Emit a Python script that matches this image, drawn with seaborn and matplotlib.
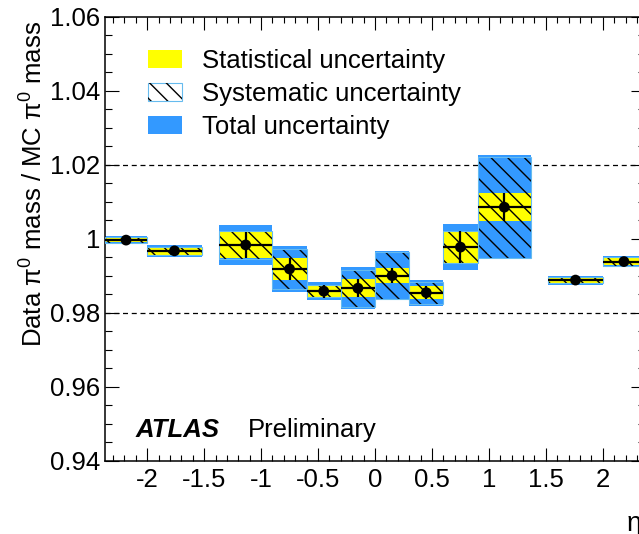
import numpy as np
import pandas as pd
import matplotlib
matplotlib.use("Agg")
import matplotlib.pyplot as plt
from matplotlib.patches import Patch
from matplotlib.ticker import MultipleLocator, FixedLocator
import seaborn as sns

# ---- data ----
eta_lo = [-2.37, -2.0, -1.37, -0.9, -0.6, -0.3, 0.0, 0.3, 0.6, 0.9, 1.52, 2.0]
eta_hi = [-2.0, -1.52, -0.9, -0.6, -0.3, 0.0, 0.3, 0.6, 0.9, 1.37, 2.0, 2.37]
ratio = [0.9997, 0.9968, 0.9984, 0.9919, 0.9859, 0.9867, 0.9901, 0.9855, 0.9978, 1.0086, 0.9889, 0.9939]
stat_unc = [0.0006, 0.0011, 0.0035, 0.0030, 0.0018, 0.0024, 0.0020, 0.0018, 0.0044, 0.0037, 0.0008, 0.0010]
syst_unc = [0.0008, 0.0011, 0.0038, 0.0053, 0.0017, 0.0050, 0.0064, 0.0030, 0.0044, 0.0136, 0.0008, 0.0012]
tot_unc = [0.0010, 0.0016, 0.0053, 0.0061, 0.0025, 0.0056, 0.0067, 0.0035, 0.0062, 0.0141, 0.0012, 0.0016]
x_ticks = [-2, -1.5, -1, -0.5, 0, 0.5, 1, 1.5, 2]
x_ticklabels = ["-2", "-1.5", "-1", "-0.5", "0", "0.5", "1", "1.5", "2"]
y_ticks = [0.94, 0.96, 0.98, 1.00, 1.02, 1.04, 1.06]
y_ticklabels = ["0.94", "0.96", "0.98", "1", "1.02", "1.04", "1.06"]
legend_labels = ["Statistical uncertainty", "Systematic uncertainty", "Total uncertainty"]

df = pd.DataFrame({"lo": eta_lo, "hi": eta_hi, "val": ratio,
                   "stat": stat_unc, "syst": syst_unc, "tot": tot_unc})
df["center"] = 0.5 * (df["lo"] + df["hi"])
df["width"] = df["hi"] - df["lo"]

# ---- style ----
sns.set_theme(style="ticks")
plt.rcParams["font.family"] = ["Liberation Sans", "DejaVu Sans"]
plt.rcParams["mathtext.fontset"] = "custom"
plt.rcParams["mathtext.rm"] = "Liberation Sans"
plt.rcParams["mathtext.it"] = "Liberation Sans:italic"
plt.rcParams["hatch.linewidth"] = 1.0
plt.rcParams["text.color"] = "black"
plt.rcParams["axes.labelcolor"] = "black"

BLUE = "#3399ff"
YELLOW = "#ffff00"
SYSEDGE = "#66bbee"
HATCH = "\\\\"
FS = 18.5

fig = plt.figure(figsize=(6.39, 5.34), dpi=100)
W, H = 639, 534
ax = fig.add_axes([105 / W, (H - 461) / H, 540 / W, 444 / H])

# total
ax.bar(df["center"], 2 * df["tot"], bottom=df["val"] - df["tot"], width=df["width"],
       color=BLUE, linewidth=0, zorder=2)
# stat
ax.bar(df["center"], 2 * df["stat"], bottom=df["val"] - df["stat"], width=df["width"],
       color=YELLOW, linewidth=0, zorder=3)
# syst (hatch + light edge)
ax.bar(df["center"], 2 * df["syst"], bottom=df["val"] - df["syst"], width=df["width"],
       fill=False, hatch=HATCH, edgecolor="black", linewidth=0, zorder=4)
ax.bar(df["center"], 2 * df["syst"], bottom=df["val"] - df["syst"], width=df["width"],
       fill=False, edgecolor=SYSEDGE, linewidth=0.8, zorder=4)

# error bars (stat) and points
ax.errorbar(df["center"], df["val"], xerr=df["width"] / 2, yerr=df["stat"],
            fmt="none", ecolor="black", elinewidth=1.6, capsize=0, zorder=5)
sns.scatterplot(data=df, x="center", y="val", ax=ax, color="black", s=60,
                edgecolor="none", zorder=6, legend=False)

# dashed reference lines
for yv in (0.98, 1.02):
    ax.axhline(yv, color="black", lw=0.9, ls=(0, (4, 3)), zorder=1)

ax.set_xlim(-2.37, 2.37)
ax.set_ylim(0.94, 1.06)
ax.xaxis.set_major_locator(FixedLocator(x_ticks))
ax.set_xticklabels(x_ticklabels)
ax.xaxis.set_minor_locator(MultipleLocator(0.1))
ax.yaxis.set_major_locator(FixedLocator(y_ticks))
ax.set_yticklabels(y_ticklabels)
ax.yaxis.set_minor_locator(MultipleLocator(0.005))
ax.tick_params(which="both", direction="in", top=True, right=True, labelsize=FS,
               colors="black", width=0.8)
ax.tick_params(axis="x", which="major", length=9.5, pad=5)
ax.tick_params(axis="x", which="minor", length=4.5)
ax.tick_params(axis="y", which="major", length=10, pad=3.5)
ax.tick_params(axis="y", which="minor", length=5)
for sp in ax.spines.values():
    sp.set_linewidth(1.1)
    sp.set_color("black")

ax.set_ylabel("Data π$^{0}$ mass / MC π$^{0}$ mass", fontsize=FS, color="black")
ax.yaxis.set_label_coords(-0.106, 0.991)
ax.yaxis.label.set_ha("right")
ax.set_xlabel("η", fontsize=FS + 1, color="black")
ax.xaxis.set_label_coords(0.993, -0.113)
ax.xaxis.label.set_ha("right")
ax.xaxis.label.set_va("top")

# ATLAS label
ax.text(0.056, 0.054, "ATLAS", transform=ax.transAxes, fontsize=FS, fontweight="bold",
        fontstyle="italic", color="black")
ax.text(0.265, 0.054, "Preliminary", transform=ax.transAxes, fontsize=FS, color="black")

# legend
h_stat = Patch(facecolor=YELLOW, edgecolor="none")
h_sys = (Patch(facecolor="white", edgecolor=SYSEDGE, linewidth=0.8),
         Patch(fill=False, hatch=HATCH, edgecolor="black", linewidth=0))
h_tot = Patch(facecolor=BLUE, edgecolor="none")
leg = ax.legend([h_stat, h_sys, h_tot], legend_labels, loc="upper left",
                bbox_to_anchor=(0.0796, 0.927), frameon=False, fontsize=FS,
                handlelength=34 / 25.7, handleheight=18 / 25.7, handletextpad=0.77,
                labelspacing=0.35, borderpad=0, borderaxespad=0)
for t in leg.get_texts():
    t.set_color("black")

fig.savefig("out.png", dpi=100)
